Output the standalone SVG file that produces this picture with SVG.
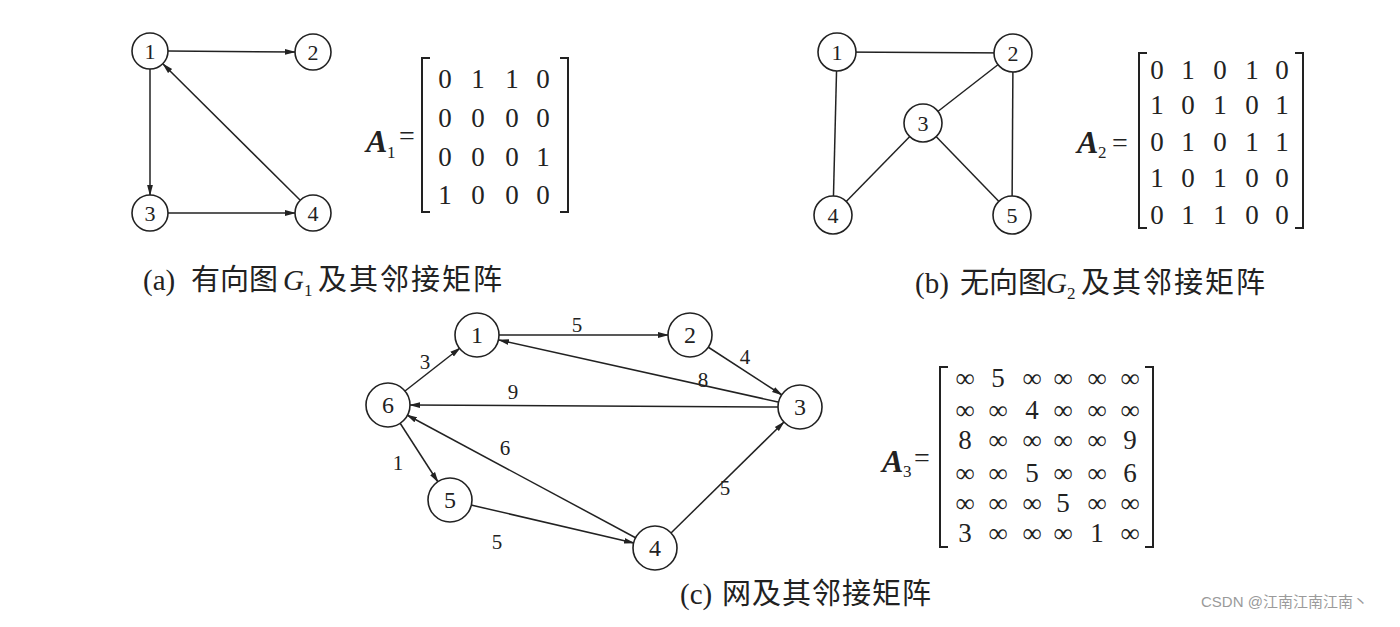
<svg xmlns="http://www.w3.org/2000/svg" width="1400" height="627" viewBox="0 0 1400 627">
<style>
.bg{fill:#ffffff}
.node{fill:#ffffff;stroke:#222;stroke-width:1.6}
.edge{stroke:#222;stroke-width:1.5;fill:none}
.arr{stroke:#222;stroke-width:1.5;fill:none;marker-end:url(#ah)}
.nl{font-family:"Liberation Serif",serif;font-size:22px;fill:#222;text-anchor:middle}
.nlc{font-family:"Liberation Serif",serif;font-size:24px;fill:#222;text-anchor:middle}
.el{font-family:"Liberation Serif",serif;font-size:21px;fill:#222;text-anchor:middle}
.m{font-family:"Liberation Serif",serif;font-size:27px;fill:#222;text-anchor:middle}
.br{stroke:#222;stroke-width:2;fill:none}
.A{font-family:"Liberation Serif",serif;font-size:32px;font-weight:bold;font-style:italic;fill:#222}
.sub{font-family:"Liberation Serif",serif;font-size:17px;fill:#222}
.eq{font-family:"Liberation Serif",serif;font-size:28px;fill:#222}
.cap{font-family:"Liberation Serif","Noto Sans CJK SC",serif;font-size:29px;fill:#222}
.capg{font-family:"Liberation Serif",serif;font-size:29px;font-style:italic;fill:#222}
.wm{font-family:"Liberation Sans","Noto Sans CJK SC",sans-serif;font-size:15px;fill:#9a9a9a}
</style>
<defs>
<marker id="ah" markerWidth="11" markerHeight="7" refX="10" refY="3.5" orient="auto" markerUnits="userSpaceOnUse">
<path d="M0,0.6 L11,3.5 L0,6.4 z" fill="#222"/>
</marker>
</defs>
<rect class="bg" x="0" y="0" width="1400" height="627"/>

<!-- (a) connectors -->
<g id="connectors-a">
<line class="arr" x1="168" y1="51" x2="295" y2="52"/>
<line class="arr" x1="150" y1="69" x2="150" y2="195"/>
<line class="arr" x1="168" y1="213" x2="295" y2="213"/>
<line class="arr" x1="300" y1="200" x2="163" y2="64"/>
</g>
<g id="a-n1"><circle class="node" cx="150" cy="51" r="18"/><text class="nl" x="150" y="59">1</text></g>
<g id="a-n2"><circle class="node" cx="313" cy="52" r="18"/><text class="nl" x="313" y="60">2</text></g>
<g id="a-n3"><circle class="node" cx="150" cy="213" r="18"/><text class="nl" x="150" y="221">3</text></g>
<g id="a-n4"><circle class="node" cx="313" cy="213" r="18"/><text class="nl" x="313" y="221">4</text></g>

<g id="matrix-a1">
<text class="A" x="366" y="152">A</text><text class="sub" x="387" y="158">1</text><text class="eq" x="399" y="145">=</text>
<path class="br" d="M430,58 L422,58 L422,212 L430,212"/>
<path class="br" d="M560,58 L568,58 L568,212 L560,212"/>
<text class="m" y="88"><tspan x="445">0</tspan><tspan x="478">1</tspan><tspan x="512">1</tspan><tspan x="543">0</tspan></text>
<text class="m" y="127"><tspan x="445">0</tspan><tspan x="478">0</tspan><tspan x="512">0</tspan><tspan x="543">0</tspan></text>
<text class="m" y="166"><tspan x="445">0</tspan><tspan x="478">0</tspan><tspan x="512">0</tspan><tspan x="543">1</tspan></text>
<text class="m" y="204"><tspan x="445">1</tspan><tspan x="478">0</tspan><tspan x="512">0</tspan><tspan x="543">0</tspan></text>
</g>
<text id="caption-a" class="cap" y="290"><tspan x="143">(a)</tspan><tspan x="191">有向图</tspan><tspan class="capg" x="283">G</tspan><tspan class="sub" x="304" y="296">1</tspan><tspan x="318" y="290" letter-spacing="2">及其邻接矩阵</tspan></text>

<!-- (b) connectors -->
<g id="connectors-b">
<line class="edge" x1="837" y1="52" x2="1013" y2="53"/>
<line class="edge" x1="837" y1="52" x2="833" y2="215"/>
<line class="edge" x1="1013" y1="53" x2="923" y2="123"/>
<line class="edge" x1="1013" y1="53" x2="1012" y2="215"/>
<line class="edge" x1="923" y1="123" x2="833" y2="215"/>
<line class="edge" x1="923" y1="123" x2="1012" y2="215"/>
</g>
<g id="b-n1"><circle class="node" cx="837" cy="52" r="19"/><text class="nl" x="837" y="60">1</text></g>
<g id="b-n2"><circle class="node" cx="1013" cy="53" r="19"/><text class="nl" x="1013" y="61">2</text></g>
<g id="b-n3"><circle class="node" cx="923" cy="123" r="19"/><text class="nl" x="923" y="131">3</text></g>
<g id="b-n4"><circle class="node" cx="833" cy="215" r="19"/><text class="nl" x="833" y="223">4</text></g>
<g id="b-n5"><circle class="node" cx="1012" cy="215" r="19"/><text class="nl" x="1012" y="223">5</text></g>

<g id="matrix-a2">
<text class="A" x="1077" y="153">A</text><text class="sub" x="1098" y="158">2</text><text class="eq" x="1112" y="152">=</text>
<path class="br" d="M1147,53 L1139,53 L1139,228 L1147,228"/>
<path class="br" d="M1295,53 L1303,53 L1303,228 L1295,228"/>
<text class="m" y="79"><tspan x="1157">0</tspan><tspan x="1188">1</tspan><tspan x="1220">0</tspan><tspan x="1252">1</tspan><tspan x="1282">0</tspan></text>
<text class="m" y="114"><tspan x="1157">1</tspan><tspan x="1188">0</tspan><tspan x="1220">1</tspan><tspan x="1252">0</tspan><tspan x="1282">1</tspan></text>
<text class="m" y="151"><tspan x="1157">0</tspan><tspan x="1188">1</tspan><tspan x="1220">0</tspan><tspan x="1252">1</tspan><tspan x="1282">1</tspan></text>
<text class="m" y="187"><tspan x="1157">1</tspan><tspan x="1188">0</tspan><tspan x="1220">1</tspan><tspan x="1252">0</tspan><tspan x="1282">0</tspan></text>
<text class="m" y="224"><tspan x="1157">0</tspan><tspan x="1188">1</tspan><tspan x="1220">1</tspan><tspan x="1252">0</tspan><tspan x="1282">0</tspan></text>
</g>
<text id="caption-b" class="cap" y="293"><tspan x="915">(b)</tspan><tspan x="960">无向图</tspan><tspan class="capg" x="1046">G</tspan><tspan class="sub" x="1067" y="299">2</tspan><tspan x="1081" y="293" letter-spacing="2">及其邻接矩阵</tspan></text>

<!-- (c) connectors -->
<g id="connectors-c">
<line class="arr" x1="499" y1="335" x2="668" y2="335"/>
<line class="arr" x1="708" y1="347" x2="782" y2="395"/>
<line class="arr" x1="778" y1="402" x2="499" y2="340"/>
<line class="arr" x1="778" y1="407" x2="410" y2="405"/>
<line class="arr" x1="405" y1="391" x2="460" y2="348"/>
<line class="arr" x1="400" y1="423" x2="438" y2="482"/>
<line class="arr" x1="636" y1="538" x2="407" y2="415"/>
<line class="arr" x1="471" y1="505" x2="634" y2="543"/>
<line class="arr" x1="671" y1="533" x2="784" y2="422"/>
<text class="el" x="577" y="332">5</text>
<text class="el" x="745" y="364">4</text>
<text class="el" x="703" y="387">8</text>
<text class="el" x="513" y="399">9</text>
<text class="el" x="425" y="369">3</text>
<text class="el" x="398" y="470">1</text>
<text class="el" x="505" y="455">6</text>
<text class="el" x="497" y="549">5</text>
<text class="el" x="725" y="495">5</text>
</g>
<g id="c-n1"><circle class="node" cx="477" cy="335" r="22"/><text class="nlc" x="477" y="343">1</text></g>
<g id="c-n2"><circle class="node" cx="690" cy="335" r="22"/><text class="nlc" x="690" y="343">2</text></g>
<g id="c-n3"><circle class="node" cx="800" cy="407" r="22"/><text class="nlc" x="800" y="415">3</text></g>
<g id="c-n4"><circle class="node" cx="655" cy="548" r="22"/><text class="nlc" x="655" y="556">4</text></g>
<g id="c-n5"><circle class="node" cx="450" cy="500" r="22"/><text class="nlc" x="450" y="508">5</text></g>
<g id="c-n6"><circle class="node" cx="388" cy="405" r="22"/><text class="nlc" x="388" y="413">6</text></g>

<g id="matrix-a3">
<text class="A" x="882" y="472">A</text><text class="sub" x="903" y="477">3</text><text class="eq" x="914" y="467">=</text>
<path class="br" d="M948,367 L940,367 L940,547 L948,547"/>
<path class="br" d="M1145,367 L1153,367 L1153,547 L1145,547"/>
<text class="m" y="387"><tspan x="965">∞</tspan><tspan x="998">5</tspan><tspan x="1032">∞</tspan><tspan x="1063">∞</tspan><tspan x="1097">∞</tspan><tspan x="1130">∞</tspan></text>
<text class="m" y="419"><tspan x="965">∞</tspan><tspan x="998">∞</tspan><tspan x="1032">4</tspan><tspan x="1063">∞</tspan><tspan x="1097">∞</tspan><tspan x="1130">∞</tspan></text>
<text class="m" y="449"><tspan x="965">8</tspan><tspan x="998">∞</tspan><tspan x="1032">∞</tspan><tspan x="1063">∞</tspan><tspan x="1097">∞</tspan><tspan x="1130">9</tspan></text>
<text class="m" y="482"><tspan x="965">∞</tspan><tspan x="998">∞</tspan><tspan x="1032">5</tspan><tspan x="1063">∞</tspan><tspan x="1097">∞</tspan><tspan x="1130">6</tspan></text>
<text class="m" y="512"><tspan x="965">∞</tspan><tspan x="998">∞</tspan><tspan x="1032">∞</tspan><tspan x="1063">5</tspan><tspan x="1097">∞</tspan><tspan x="1130">∞</tspan></text>
<text class="m" y="542"><tspan x="965">3</tspan><tspan x="998">∞</tspan><tspan x="1032">∞</tspan><tspan x="1063">∞</tspan><tspan x="1097">1</tspan><tspan x="1130">∞</tspan></text>
</g>
<text id="caption-c" class="cap" y="604"><tspan x="680">(c)</tspan><tspan x="722" letter-spacing="1">网及其邻接矩阵</tspan></text>

<text id="watermark" class="wm" x="1201" y="607">CSDN @江南江南江南丶</text>
</svg>
